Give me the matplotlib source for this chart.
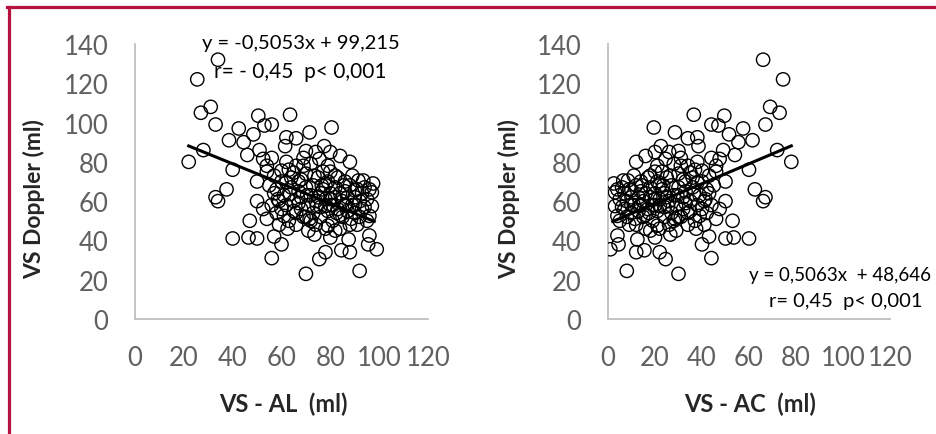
import numpy as np
import matplotlib.pyplot as plt

plt.rcParams['font.family'] = ['Lato', 'DejaVu Sans']

# VS - AL (ml), left panel
al_x = [22, 25.5, 27, 28, 31, 33, 34, 33, 34, 37.5,
        38.5, 40, 40, 42.5, 44.5, 46, 46.5, 47, 48.5, 50,
        50.5, 51, 50, 50, 53, 56, 52.5, 54, 56, 57,
        55, 52.5, 54, 58.5, 60, 61.5, 62, 63.5, 66, 60,
        62, 63.5, 61, 62.5, 65, 66, 68, 69, 70, 71.5,
        70, 70.5, 71.5, 73.5, 73.5, 74.5, 75.5, 77.5, 78, 75.5,
        76.5, 78, 79, 80.5, 80, 80, 79, 80, 82, 82.5,
        84, 84.5, 85.5, 86.5, 87.5, 88, 88, 88.5, 90, 91.5,
        92, 93, 93.5, 95, 96, 97, 97.5, 99, 95.5, 97,
        96,
        54, 56, 57, 58, 56, 58, 59, 60, 61, 62,
        62, 63, 64, 64, 65, 65, 66, 66, 67, 67,
        68, 68, 69, 69, 70, 70, 71, 71, 72, 72,
        73, 73, 74, 74, 75, 75, 76, 76, 77, 77,
        78, 78, 79, 79, 80, 80, 81, 81, 82, 82,
        83, 83, 84, 84, 85, 85, 86, 86, 87, 87,
        88, 88, 89, 89, 90, 90, 91, 91, 92, 92,
        93, 94, 94, 95, 96, 57, 59, 63, 67, 70,
        74, 78, 82, 86, 90, 72, 76, 80, 84, 60]

# VS - AC (ml), right panel
ac_x = [78, 74.5, 73, 72, 69, 67, 66, 67, 66, 62.5,
        61.5, 60, 60, 57.5, 55.5, 54, 53.5, 53, 51.5, 50,
        49.5, 49, 50, 50, 47, 44, 47.5, 46, 44, 43,
        45, 47.5, 46, 41.5, 40, 38.5, 38, 36.5, 34, 40,
        38, 36.5, 39, 37.5, 35, 34, 32, 31, 30, 28.5,
        30, 29.5, 28.5, 26.5, 26.5, 25.5, 24.5, 22.5, 22, 24.5,
        23.5, 22, 21, 19.5, 20, 20, 21, 20, 18, 17.5,
        16, 15.5, 14.5, 13.5, 12.5, 12, 12, 11.5, 10, 8.5,
        8, 7, 6.5, 5, 4, 3, 2.5, 1, 4.5, 3,
        4,
        46, 44, 43, 42, 44, 42, 41, 40, 39, 38,
        38, 37, 36, 36, 35, 35, 34, 34, 33, 33,
        32, 32, 31, 31, 30, 30, 29, 29, 28, 28,
        27, 27, 26, 26, 25, 25, 24, 24, 23, 23,
        22, 22, 21, 21, 20, 20, 19, 19, 18, 18,
        17, 17, 16, 16, 15, 15, 14, 14, 13, 13,
        12, 12, 11, 11, 10, 10, 9, 9, 8, 8,
        7, 6, 6, 5, 4, 43, 41, 37, 33, 30,
        26, 22, 18, 14, 10, 28, 24, 20, 16, 40]

# VS Doppler (ml)
doppler = [80, 122, 105, 86, 108, 99, 132, 62, 60, 66,
           91, 76, 41, 97, 90, 83.5, 41.5, 50, 94, 41,
           103.5, 86, 70, 60, 98.5, 99, 81.5, 75, 31, 42,
           68, 56, 51, 61, 38, 88, 92.5, 104, 92, 75.5,
           69.5, 63.5, 52.5, 46, 74.5, 54, 71, 78, 85.5, 95,
           23, 63, 51, 73, 43, 57.5, 30.5, 88, 34, 81.5,
           68, 57.5, 78, 97.5, 85, 61, 47.5, 41.5, 73, 54,
           83, 35, 68, 57.5, 40.5, 80, 34, 51, 65.5, 70.5,
           24.5, 56, 70.5, 61, 42.5, 57.5, 69, 35.5, 38, 64.5,
           52.5,
           78, 82, 73, 66, 58, 54, 48, 70, 63, 58,
           80, 50, 67, 72, 60, 55, 78, 48, 65, 70,
           62, 56, 52, 82, 67, 74, 58, 45, 63, 79,
           68, 54, 48, 85, 62, 72, 57, 52, 66, 75,
           61, 46, 70, 55, 64, 75, 58, 50, 67, 62,
           56, 72, 46, 64, 60, 52, 70, 65, 55, 62,
           48, 68, 58, 73, 54, 62, 66, 48, 60, 52,
           64, 57, 67, 50, 66, 64, 60, 76, 59, 52,
           60, 68, 45, 58, 58, 50, 64, 58, 53, 56]

# regression lines (slope, intercept, x range)
fit_al = (-0.5053, 99.215, 22, 98)
fit_ac = (0.5063, 48.646, 2, 78)

W, H = 936, 435
fig = plt.figure(figsize=(W / 100, H / 100), dpi=100)

# red frame, left and top
fig.add_artist(plt.Line2D([8.5 / W, 8.5 / W], [0, 1 - 8 / H], transform=fig.transFigure,
                          color='#B5123F', lw=2.3))
fig.add_artist(plt.Line2D([7.5 / W, 1], [1 - 8 / H, 1 - 8 / H], transform=fig.transFigure,
                          color='#B5123F', lw=2.3))

axl = fig.add_axes([135 / W, 115 / H, 293 / W, 275 / H])
axr = fig.add_axes([608 / W, 115 / H, 282 / W, 275 / H])

panels = [(axl, al_x, fit_al, 'VS - AL  (ml)', -0.307),
          (axr, ac_x, fit_ac, 'VS - AC  (ml)', -0.312)]
for ax, xs, fit, xlab, ylx in panels:
    ax.scatter(xs, doppler, s=92, facecolors='none', edgecolors='black', linewidths=1.0, zorder=3)
    m, b, x0, x1 = fit
    lx = np.array([x0, x1])
    ax.plot(lx, m * lx + b, color='black', lw=2.2, zorder=4)
    ax.set_xlim(0, 120)
    ax.set_ylim(0, 140)
    ax.set_xticks(range(0, 121, 20))
    ax.set_yticks(range(0, 141, 20))
    for s in ['top', 'right']:
        ax.spines[s].set_visible(False)
    for s in ['left', 'bottom']:
        ax.spines[s].set_color('#BFBFBF')
        ax.spines[s].set_linewidth(1.3)
    ax.tick_params(length=0, labelsize=18.5, labelcolor='#606060')
    ax.tick_params(axis='y', pad=19)
    ax.tick_params(axis='x', pad=19)
    ax.set_xlabel(xlab, fontsize=17, fontweight='bold', color='#262626')
    ax.set_ylabel('VS Doppler (ml)', fontsize=16.5, fontweight='bold', color='#262626')
    ax.xaxis.set_label_coords(0.505, -0.265)
    ax.yaxis.set_label_coords(ylx, 0.44)
    ax.patch.set_alpha(0)


def px_text(x, y, s, size, ha='center'):
    fig.text(x / W, 1 - y / H, s, fontsize=size, ha=ha, va='center', color='black')


px_text(301, 43, 'y = -0,5053x + 99,215', 14.5)
px_text(300, 72, 'r= - 0,45  p< 0,001', 15)
px_text(840, 276, 'y = 0,5063x  + 48,646', 13.5)
px_text(846, 302, 'r= 0,45  p< 0,001', 14.5)

fig.savefig('out.png', dpi=100)
